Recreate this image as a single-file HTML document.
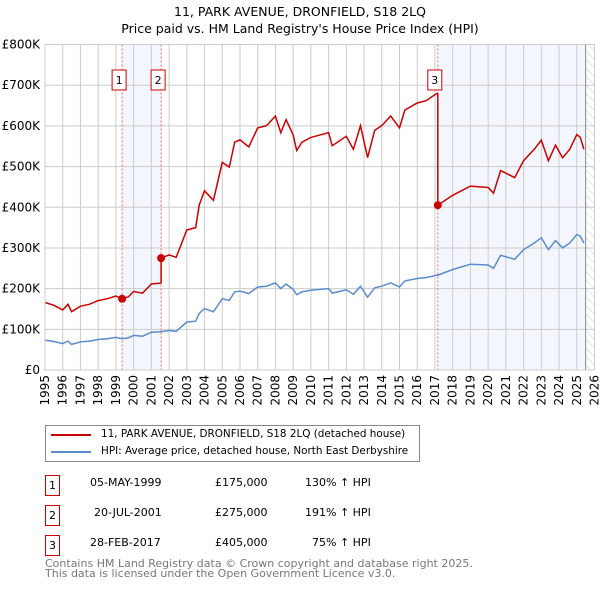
<!DOCTYPE html>
<html><head><meta charset="utf-8"><style>
body{margin:0;background:#fff;font-family:"DejaVu Sans","Liberation Sans",sans-serif;}
#wrap{position:relative;width:600px;height:590px;overflow:hidden}
.t{position:absolute;font-size:11px;color:#000;white-space:nowrap}
.nb{position:absolute;width:13px;height:19px;border:1px solid #c00;font-size:11px;text-align:center;line-height:19px}
</style></head><body>
<div id="wrap">
<svg id="svg" width="600" height="420" style="position:absolute;left:0;top:0"></svg>
<div style="position:absolute;left:45px;top:425px;width:373px;height:35px;border:1px solid #888;">
 <div style="position:absolute;left:5px;top:8px;width:40px;height:2px;background:#c00"></div>
 <div class="t" style="left:55px;top:2px;font-size:10.4px">11, PARK AVENUE, DRONFIELD, S18 2LQ (detached house)</div>
 <div style="position:absolute;left:5px;top:25px;width:40px;height:2px;background:#5b8bd0"></div>
 <div class="t" style="left:55px;top:19px;font-size:10.4px">HPI: Average price, detached house, North East Derbyshire</div>
</div>
<div>
 <div class="nb" style="left:45px;top:475px">1</div>
 <div class="t" style="left:90px;top:476px">05-MAY-1999</div>
 <div class="t" style="left:215px;top:476px">£175,000</div>
 <div class="t" style="left:305px;top:476px">130% ↑ HPI</div>
 <div class="nb" style="left:45px;top:505px">2</div>
 <div class="t" style="left:94px;top:506px">20-JUL-2001</div>
 <div class="t" style="left:215px;top:506px">£275,000</div>
 <div class="t" style="left:305px;top:506px">191% ↑ HPI</div>
 <div class="nb" style="left:45px;top:535px">3</div>
 <div class="t" style="left:90px;top:536px">28-FEB-2017</div>
 <div class="t" style="left:215px;top:536px">£405,000</div>
 <div class="t" style="left:312px;top:536px">75% ↑ HPI</div>
</div>
<div class="t" style="left:45px;top:559px;color:#777;line-height:10px">Contains HM Land Registry data © Crown copyright and database right 2025.<br>This data is licensed under the Open Government Licence v3.0.</div>
</div>
<script>
const hpiYears=[1995,1995.5,1996,1996.3,1996.5,1997,1997.5,1998,1998.5,1999,1999.35,1999.7,2000,2000.5,2001,2001.5,2002,2002.4,2003,2003.5,2003.7,2004,2004.5,2005,2005.4,2005.7,2006,2006.5,2007,2007.5,2008,2008.3,2008.6,2009,2009.2,2009.5,2010,2011,2011.2,2012,2012.4,2012.8,2013.2,2013.6,2014,2014.5,2015,2015.3,2016,2016.5,2017.1,2017.16,2018,2019,2020,2020.3,2020.7,2021.5,2022,2022.6,2023,2023.4,2023.8,2024.2,2024.6,2025,2025.2,2025.4];
const hpiValues=[73,70,65,71,63,69,71,75,77,80,77,79,85,83,93,94,97,95,118,120,139,151,143,175,171,192,194,188,204,206,214,200,211,198,185,192,196,200,189,197,186,206,179,202,206,214,204,219,225,227,233,233,247,260,258,250,282,272,296,312,325,296,318,300,312,333,329,312];
const saleYears=[1999.35,2001.55,2017.16];
const saleValues=[175,275,405];
const saleLabels=["1","2","3"];
const yTicks=[0,100,200,300,400,500,600,700,800];
const yTickLabels=["£0","£100K","£200K","£300K","£400K","£500K","£600K","£700K","£800K"];
const xTicks=[1995,1996,1997,1998,1999,2000,2001,2002,2003,2004,2005,2006,2007,2008,2009,2010,2011,2012,2013,2014,2015,2016,2017,2018,2019,2020,2021,2022,2023,2024,2025,2026];
const dataEnd=2025.5;
const L=45,R=594.5,T=44.5,B=370;
const X=y=>L+(y-1995)/(2026-1995)*(R-L);
const Y=v=>B-v/800*(B-T);
const svg=document.getElementById('svg');const NS='http://www.w3.org/2000/svg';
function mk(t,a,p){const e=document.createElementNS(NS,t);for(const k in a)e.setAttribute(k,a[k]);(p||svg).appendChild(e);return e;}
let r=mk('rect',{x:X(saleYears[0]),y:T,width:X(saleYears[1])-X(saleYears[0]),height:B-T,fill:'#eef3fc',opacity:0.7});

r=mk('rect',{x:X(saleYears[2]),y:T,width:X(dataEnd)-X(saleYears[2]),height:B-T,fill:'#eef3fc',opacity:0.7});

const defs=mk('defs',{});const pat=mk('pattern',{id:'h',width:6,height:6,patternUnits:'userSpaceOnUse',patternTransform:'rotate(-45)'},defs);
mk('line',{x1:0,y1:0,x2:0,y2:6,stroke:'#ccc','stroke-width':1},pat);
r=mk('rect',{x:X(dataEnd),y:T,width:R-X(dataEnd),height:B-T,fill:'url(#h)'});

yTicks.forEach((v,i)=>{let l=mk('line',{x1:L,x2:R,y1:Y(v),y2:Y(v),stroke:'#ccc'});

let t=mk('text',{x:L-5,y:Y(v)+4,'text-anchor':'end','font-size':12,fill:'#000'});t.textContent=yTickLabels[i];
});
xTicks.forEach(y=>{let l=mk('line',{x1:X(y),x2:X(y),y1:T,y2:B,stroke:'#ccc'});

let t=mk('text',{x:0,y:0,'text-anchor':'end','font-size':12,transform:`translate(${X(y)+4},${B+5}) rotate(-90)`});t.textContent=y;
});
let bl=mk('line',{x1:X(dataEnd),x2:X(dataEnd),y1:T,y2:B,stroke:'#888'});

saleYears.forEach((s,i)=>{let l=mk('line',{x1:X(s),x2:X(s),y1:T,y2:B,stroke:'#f06060','stroke-dasharray':'2,2'});
});
let d=hpiYears.map((y,i)=>(i?'L':'M')+X(y).toFixed(1)+','+Y(hpiValues[i]).toFixed(1)).join('');
let p=mk('path',{d:d,fill:'none',stroke:'#5b8bd0','stroke-width':1.5});

function hpiAt(t){for(let i=1;i<hpiYears.length;i++){if(t<=hpiYears[i]){const f=(t-hpiYears[i-1])/(hpiYears[i]-hpiYears[i-1]);return hpiValues[i-1]+f*(hpiValues[i]-hpiValues[i-1]);}}return hpiValues[hpiValues.length-1];}
const ratios=saleYears.map((s,i)=>saleValues[i]/hpiAt(s));
let pts=[];
hpiYears.forEach((y,i)=>{let k=0;for(let j=0;j<saleYears.length;j++)if(y>=saleYears[j])k=j;
pts.push([y,hpiValues[i]*ratios[k]]);});
saleYears.forEach((s,j)=>{if(j>0)pts.push([s-0.0001,hpiAt(s)*ratios[j-1]]);pts.push([s,saleValues[j]]);});
pts.sort((a,b)=>a[0]-b[0]);
d=pts.map((q,i)=>(i?'L':'M')+X(q[0]).toFixed(1)+','+Y(q[1]).toFixed(1)).join('');
p=mk('path',{d:d,fill:'none',stroke:'#cc0000','stroke-width':1.5});

saleYears.forEach((s,i)=>{let c=mk('circle',{cx:X(s),cy:Y(saleValues[i]),r:4,fill:'#cc0000'});

let bx=X(s)-3;let g=mk('rect',{x:bx-7,y:70,width:14,height:20,fill:'#fff',stroke:'#c00'});

let t=mk('text',{x:bx,y:84,'text-anchor':'middle','font-size':11});t.textContent=saleLabels[i];
});
let fr=mk('rect',{x:L,y:T,width:R-L,height:B-T,fill:'none',stroke:'#ccc'});

let t1=mk('text',{x:300,y:16,'text-anchor':'middle','font-size':12.5});t1.textContent='11, PARK AVENUE, DRONFIELD, S18 2LQ';

let t2=mk('text',{x:300,y:33,'text-anchor':'middle','font-size':12.5});t2.textContent="Price paid vs. HM Land Registry's House Price Index (HPI)";

</script>
</body></html>
